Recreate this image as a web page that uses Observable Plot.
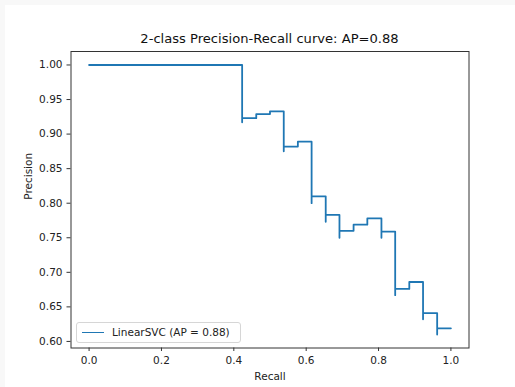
<!DOCTYPE html>
<html>
<head>
<meta charset="utf-8">
<script src="https://cdn.jsdelivr.net/npm/d3@7"></script>
<script src="https://cdn.jsdelivr.net/npm/@observablehq/plot@0.6"></script>
<style>
  html, body { margin: 0; padding: 0; background: #f8f8f8; }
  #page { position: absolute; left: 5px; top: 5px; width: 510px; height: 382px; background: #fff; }
  #wrap { position: absolute; left: 0; top: 0; width: 515px; height: 387px; font-family: "DejaVu Sans", sans-serif; }
  #title { position: absolute; left: 70.5px; width: 398px; top: 32px; text-align: center; font-size: 13.1px; line-height: 1; color: #111; white-space: nowrap; }
  #legend { position: absolute; left: 76px; top: 321.5px; width: 165px; height: 21px; box-sizing: border-box; border: 1px solid #d6d6d6; border-radius: 3px; background: rgba(255,255,255,0.8); }
  #legend .sw { position: absolute; left: 4.5px; top: 9px; width: 22px; height: 0; border-top: 1.8px solid #1f77b4; }
  #legend .lb { position: absolute; left: 35px; top: 4px; font-size: 10.5px; line-height: 1; color: #222; white-space: nowrap; }
  #chart { position: absolute; left: 0; top: 0; }
</style>
</head>
<body>
<div id="page"></div>
<div id="wrap">
  <div id="chart"></div>
  <div id="title"></div>
  <div id="legend"><div class="sw"></div><div class="lb"></div></div>
</div>
<script>
const titleText = "2-class Precision-Recall curve: AP=0.88";
const xLabel = "Recall";
const yLabel = "Precision";
const legendLabel = "LinearSVC (AP = 0.88)";
const recall = [1.000, 0.962, 0.962, 0.923, 0.923, 0.885, 0.846, 0.846, 0.808, 0.808, 0.769, 0.731, 0.692, 0.692, 0.654, 0.654, 0.615, 0.615, 0.577, 0.538, 0.538, 0.500, 0.462, 0.423, 0.423, 0.000];
const precision = [0.619, 0.610, 0.641, 0.632, 0.686, 0.676, 0.667, 0.759, 0.750, 0.778, 0.769, 0.760, 0.750, 0.783, 0.773, 0.810, 0.800, 0.889, 0.882, 0.875, 0.933, 0.929, 0.923, 0.917, 1.000, 1.000];
const xTicks = [0.0, 0.2, 0.4, 0.6, 0.8, 1.0];
const yTicks = [0.60, 0.65, 0.70, 0.75, 0.80, 0.85, 0.90, 0.95, 1.00];

const data = recall.map((r, i) => ({recall: r, precision: precision[i]}));

document.getElementById("title").textContent = titleText;
document.querySelector("#legend .lb").textContent = legendLabel;

const chart = Plot.plot({
  width: 515,
  height: 387,
  marginLeft: 70.5,
  marginRight: 46.5,
  marginTop: 51,
  marginBottom: 39.5,
  style: {fontFamily: "DejaVu Sans", fontSize: "10.5px", color: "#222", background: "transparent", overflow: "visible"},
  x: {domain: [-0.05, 1.05]},
  y: {domain: [0.5905, 1.0195]},
  marks: [
    Plot.line(data, {x: "recall", y: "precision", curve: "step-after", stroke: "#1f77b4", strokeWidth: 1.8}),
    Plot.axisX({ticks: xTicks, tickFormat: d3.format(".1f"), tickSize: 3.5, tickPadding: 5.5, label: null, stroke: "#333"}),
    Plot.axisY({ticks: yTicks, tickFormat: d3.format(".2f"), tickSize: 4, tickPadding: 4.5, label: null, stroke: "#333"}),
    Plot.frame({stroke: "#333", strokeWidth: 1}),
    Plot.text([xLabel], {text: d => d, frameAnchor: "bottom", dy: 28.5, lineAnchor: "middle", fill: "#222"}),
    Plot.text([yLabel], {text: d => d, frameAnchor: "left", dx: -42, rotate: -90, lineAnchor: "middle", fill: "#222"})
  ]
});
document.getElementById("chart").appendChild(chart);
</script>
</body>
</html>
